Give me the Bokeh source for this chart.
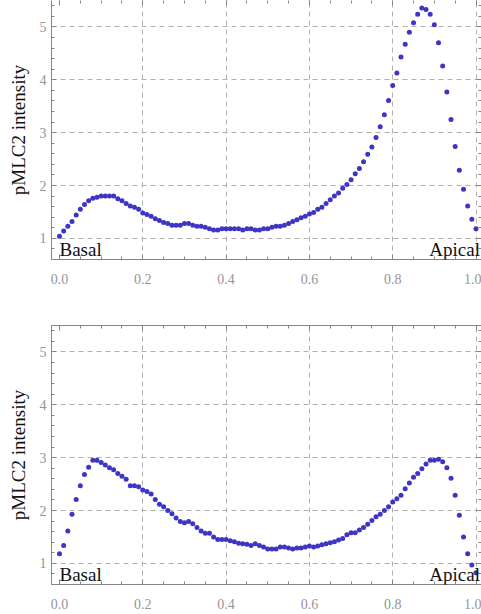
from bokeh.plotting import figure
from bokeh.layouts import column
from bokeh.models import Range1d, LinearAxis, FixedTicker, Label
from bokeh.embed import file_html
from bokeh.resources import INLINE

# ---- data ----
x_pos = [0.00, 0.01, 0.02, 0.03, 0.04, 0.05, 0.06, 0.07, 0.08, 0.09,
         0.10, 0.11, 0.12, 0.13, 0.14, 0.15, 0.16, 0.17, 0.18, 0.19,
         0.20, 0.21, 0.22, 0.23, 0.24, 0.25, 0.26, 0.27, 0.28, 0.29,
         0.30, 0.31, 0.32, 0.33, 0.34, 0.35, 0.36, 0.37, 0.38, 0.39,
         0.40, 0.41, 0.42, 0.43, 0.44, 0.45, 0.46, 0.47, 0.48, 0.49,
         0.50, 0.51, 0.52, 0.53, 0.54, 0.55, 0.56, 0.57, 0.58, 0.59,
         0.60, 0.61, 0.62, 0.63, 0.64, 0.65, 0.66, 0.67, 0.68, 0.69,
         0.70, 0.71, 0.72, 0.73, 0.74, 0.75, 0.76, 0.77, 0.78, 0.79,
         0.80, 0.81, 0.82, 0.83, 0.84, 0.85, 0.86, 0.87, 0.88, 0.89,
         0.90, 0.91, 0.92, 0.93, 0.94, 0.95, 0.96, 0.97, 0.98, 0.99,
         1.00]

top_intensity = [1.04, 1.14, 1.23, 1.32, 1.44, 1.55, 1.64, 1.71, 1.76, 1.78,
                 1.80, 1.80, 1.80, 1.80, 1.75, 1.71, 1.66, 1.61, 1.59, 1.55,
                 1.48, 1.45, 1.42, 1.37, 1.34, 1.30, 1.28, 1.25, 1.25, 1.25,
                 1.28, 1.28, 1.25, 1.23, 1.23, 1.21, 1.18, 1.16, 1.16, 1.18,
                 1.18, 1.18, 1.18, 1.18, 1.16, 1.18, 1.18, 1.16, 1.16, 1.18,
                 1.18, 1.21, 1.23, 1.23, 1.25, 1.28, 1.32, 1.35, 1.39, 1.42,
                 1.46, 1.49, 1.55, 1.59, 1.66, 1.73, 1.80, 1.86, 1.95, 2.02,
                 2.11, 2.22, 2.32, 2.45, 2.59, 2.73, 2.91, 3.11, 3.34, 3.61,
                 3.89, 4.13, 4.43, 4.67, 4.90, 5.08, 5.24, 5.36, 5.33, 5.24,
                 5.04, 4.70, 4.26, 3.77, 3.25, 2.74, 2.29, 1.93, 1.61, 1.36,
                 1.18]

bottom_intensity = [1.18, 1.34, 1.61, 1.93, 2.21, 2.47, 2.68, 2.82, 2.95, 2.95,
                    2.91, 2.86, 2.81, 2.77, 2.70, 2.65, 2.59, 2.47, 2.47, 2.45,
                    2.39, 2.36, 2.31, 2.21, 2.12, 2.07, 2.00, 1.94, 1.86, 1.79,
                    1.77, 1.79, 1.75, 1.68, 1.61, 1.57, 1.57, 1.50, 1.45, 1.45,
                    1.45, 1.43, 1.41, 1.38, 1.37, 1.36, 1.34, 1.37, 1.34, 1.31,
                    1.27, 1.27, 1.27, 1.31, 1.31, 1.29, 1.27, 1.29, 1.29, 1.31,
                    1.33, 1.31, 1.33, 1.35, 1.37, 1.39, 1.41, 1.44, 1.47, 1.54,
                    1.58, 1.58, 1.63, 1.68, 1.74, 1.81, 1.88, 1.93, 2.00, 2.07,
                    2.16, 2.22, 2.29, 2.41, 2.52, 2.63, 2.70, 2.79, 2.88, 2.95,
                    2.95, 2.97, 2.92, 2.81, 2.61, 2.29, 1.91, 1.50, 1.18, 0.97,
                    0.82]

x_ticks = [0.0, 0.2, 0.4, 0.6, 0.8, 1.0]
x_tick_labels = ["0.0", "0.2", "0.4", "0.6", "0.8", "1.0"]
y_ticks = [1, 2, 3, 4, 5]
y_tick_labels = ["1", "2", "3", "4", "5"]
y_label = "pMLC2 intensity"
end_labels = ["Basal", "Apical"]

# ---- style ----
SERIF = "Liberation Serif"
AXIS_COLOR = "#858585"
TICK_LABEL_COLOR = "#959595"
GRID_COLOR = "#b0b0b0"
DOT_COLOR = "#3d35c4"

x_minor = [round(i * 0.05, 2) for i in range(-1, 22)]
y_minor = [round(0.6 + i * 0.2, 1) for i in range(0, 25)]


def style_axis(ax, ticks, minor, labels=None):
    ax.ticker = FixedTicker(ticks=ticks, minor_ticks=minor)
    ax.axis_line_color = AXIS_COLOR
    ax.axis_line_width = 1
    ax.major_tick_line_color = AXIS_COLOR
    ax.minor_tick_line_color = AXIS_COLOR
    ax.major_tick_in = 5
    ax.major_tick_out = 0
    ax.minor_tick_in = 3
    ax.minor_tick_out = 0
    if labels is None:
        ax.major_label_text_font_size = "0px"
        ax.major_label_standoff = 0
        ax.major_label_overrides = {t: "" for t in ticks}
    else:
        ax.major_label_overrides = {t: l for t, l in zip(ticks, labels)}
        ax.major_label_text_font = SERIF
        ax.major_label_text_font_size = "14px"
        ax.major_label_text_color = TICK_LABEL_COLOR


def make_panel(values, height, border_top, border_bottom, top_line):
    p = figure(width=481, height=height,
               x_range=Range1d(-0.0192, 1.0132), y_range=Range1d(0.6, 5.5),
               output_backend="svg", toolbar_location=None,
               min_border_left=51, min_border_right=0,
               min_border_top=border_top, min_border_bottom=border_bottom)
    p.outline_line_color = None
    p.background_fill_color = "white"
    p.border_fill_color = "white"

    xa = p.xaxis[0]
    ya = p.yaxis[0]
    style_axis(xa, x_ticks, x_minor, x_tick_labels)
    xa.major_label_standoff = 14
    style_axis(ya, y_ticks, y_minor, y_tick_labels)
    ya.major_label_standoff = 5
    ya.axis_label = y_label
    ya.axis_label_text_font = SERIF
    ya.axis_label_text_font_size = "19px"
    ya.axis_label_text_font_style = "normal"
    ya.axis_label_text_color = "#111111"
    ya.axis_label_standoff = 8

    top_ax = LinearAxis()
    style_axis(top_ax, x_ticks, x_minor)
    if not top_line:
        top_ax.axis_line_color = None
    p.add_layout(top_ax, "above")
    right_ax = LinearAxis()
    style_axis(right_ax, y_ticks, y_minor)
    p.add_layout(right_ax, "right")

    p.xgrid.ticker = FixedTicker(ticks=x_ticks[1:])
    p.ygrid.ticker = FixedTicker(ticks=y_ticks)
    for g in (p.xgrid, p.ygrid):
        g.grid_line_color = GRID_COLOR
        g.grid_line_dash = "5 4"
        g.grid_line_width = 1

    p.scatter(x_pos, values, size=5, fill_color=DOT_COLOR, line_color=None)

    p.add_layout(Label(x=0.0, y=0.79, text=end_labels[0], text_align="left",
                       text_baseline="alphabetic", text_font=SERIF,
                       text_font_size="19px", text_color="#111111"))
    p.add_layout(Label(x=1.0096, y=0.79, text=end_labels[1], text_align="right",
                       text_baseline="alphabetic", text_font=SERIF,
                       text_font_size="19px", text_color="#111111"))
    return p


# top panel: its upper edge sits at the very top of the picture
p1 = make_panel(top_intensity, 299, 0, 40, False)
p2 = make_panel(bottom_intensity, 315, 26, 30, True)

layout = column(p1, p2, spacing=0)

open("out.html", "w").write(file_html(layout, INLINE))
